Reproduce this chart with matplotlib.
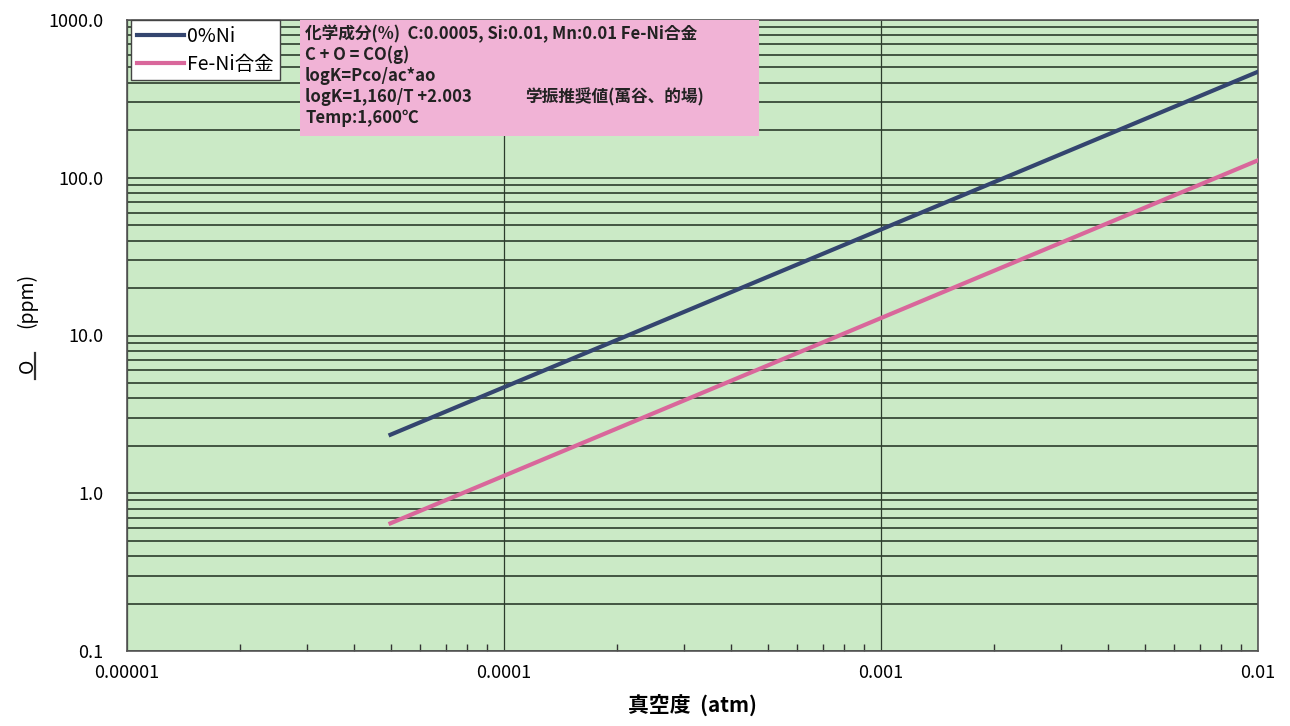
import matplotlib.pyplot as plt
from matplotlib.lines import Line2D
from matplotlib.patches import Rectangle
from matplotlib.ticker import LogLocator, FixedLocator, NullFormatter

plt.rcParams['font.family'] = ['Noto Sans CJK JP', 'DejaVu Sans']

# vacuum level (atm) and equilibrium oxygen (ppm)
pressure = [5e-5, 1e-4, 2e-4, 5e-4, 1e-3, 2e-3, 5e-3, 1e-2]
o_pure = [2.35, 4.7, 9.4, 23.5, 47.0, 94.0, 235.0, 470.0]
o_feni = [0.645, 1.29, 2.58, 6.45, 12.9, 25.8, 64.5, 129.0]

x_ticks = [1e-5, 1e-4, 1e-3, 1e-2]
x_labels = ['0.00001', '0.0001', '0.001', '0.01']
y_ticks = [0.1, 1, 10, 100, 1000]
y_labels = ['0.1', '1.0', '10.0', '100.0', '1000.0']

note_lines = ["化学成分(%)  C:0.0005, Si:0.01, Mn:0.01 Fe-Ni合金",
              "C + O = CO(g)",
              "logK=Pco/ac*ao",
              "logK=1,160/T +2.003",
              "Temp:1,600℃"]
note_source = "学振推奨値(萬谷、的場)"

W, H = 1290, 726
L, R, T, B = 127, 1258, 20, 651


def ax_x(px):
    return (px - L) / (R - L)


def ax_y(py):
    return (B - py) / (B - T)


fig = plt.figure(figsize=(12.9, 7.26), dpi=100)
ax = fig.add_axes([L / W, 1 - B / H, (R - L) / W, (B - T) / H])
ax.set_facecolor('#cbeac6')

ax.plot(pressure, o_pure, color='#34456f', lw=3, label='0%Ni', zorder=4)
ax.plot(pressure, o_feni, color='#d9679b', lw=3, label='Fe-Ni合金', zorder=4)

ax.set_xscale('log')
ax.set_yscale('log')
ax.set_xlim(1e-5, 1e-2)
ax.set_ylim(0.1, 1000)

ax.xaxis.set_major_locator(FixedLocator(x_ticks))
ax.set_xticklabels(x_labels)
ax.xaxis.set_minor_locator(LogLocator(base=10, subs=range(2, 10)))
ax.xaxis.set_minor_formatter(NullFormatter())
ax.yaxis.set_major_locator(FixedLocator(y_ticks))
ax.set_yticklabels(y_labels)
ax.yaxis.set_minor_locator(LogLocator(base=10, subs=range(2, 10)))
ax.yaxis.set_minor_formatter(NullFormatter())

ax.tick_params(axis='x', which='major', length=0, pad=9, labelsize=13)
ax.tick_params(axis='x', which='minor', direction='in', length=5, width=1, color='#333333')
ax.tick_params(axis='y', which='both', length=0, pad=17, labelsize=13)

ax.grid(True, axis='y', which='both', color='#2c3c2c', lw=1.2, zorder=1)
ax.grid(True, axis='x', which='major', color='#2c3c2c', lw=0.9, zorder=1)
ax.set_axisbelow(True)
for side in ax.spines.values():
    side.set_color('#555555')
    side.set_linewidth(1.2)

ax.set_xlabel('真空度  (atm)', fontsize=15, fontweight='bold', labelpad=9)

# y label with underlined O
fig.text(0.021, 1 - 300 / H, '(ppm)', rotation=90, fontsize=14,
         ha='center', va='center')
fig.text(0.021, 1 - 366 / H, 'O', rotation=90, fontsize=14,
         ha='center', va='center')
fig.add_artist(Line2D([35 / W, 35 / W], [1 - 353 / H, 1 - 379 / H],
                      color='#333333', lw=1.6))

# pink note box
ax.add_patch(Rectangle((ax_x(300), ax_y(136)), ax_x(759) - ax_x(300),
                       ax_y(20) - ax_y(136), transform=ax.transAxes,
                       facecolor='#f1b3d6', edgecolor='none', zorder=5))
for i, line in enumerate(note_lines):
    ax.text(ax_x(305), ax_y(34 + 21 * i), line, transform=ax.transAxes,
            fontsize=12, fontweight='bold', va='center', ha='left',
            color='#222222', zorder=6)
ax.text(ax_x(525), ax_y(34 + 21 * 3), note_source, transform=ax.transAxes,
        fontsize=12, fontweight='bold', va='center', ha='left',
        color='#222222', zorder=6)

leg = ax.legend(loc='upper left', bbox_to_anchor=(ax_x(131), 1.0), fontsize=14,
                frameon=True, fancybox=False, framealpha=1, borderpad=0.3,
                handlelength=2.4, handletextpad=0.2, labelspacing=0.35,
                borderaxespad=0.0)
leg.get_frame().set_edgecolor('#444444')
leg.set_zorder(7)

fig.savefig('out.png', dpi=100)
